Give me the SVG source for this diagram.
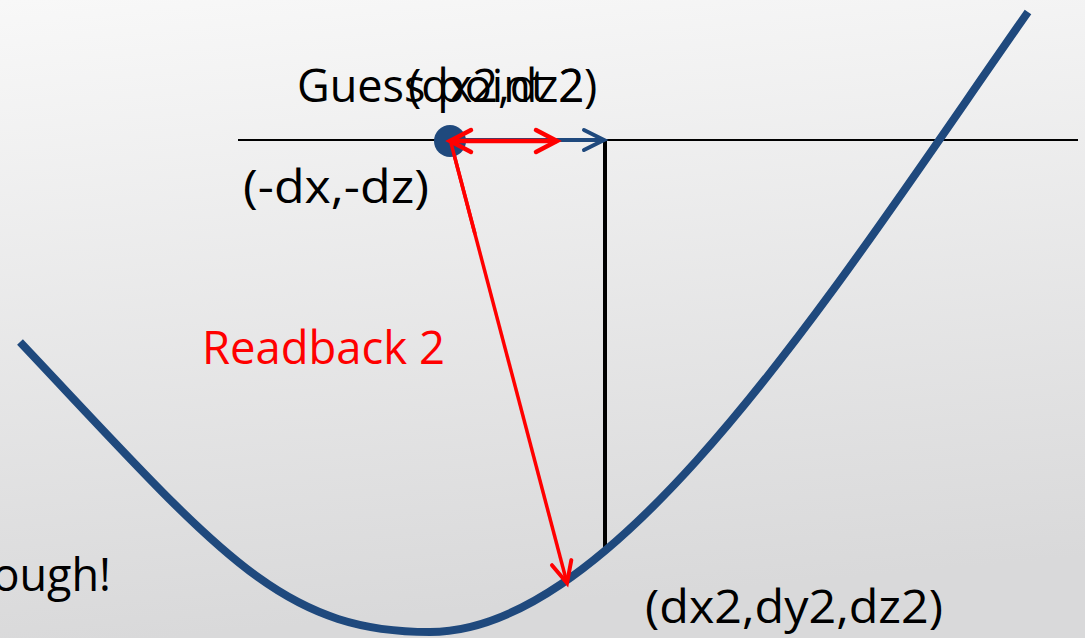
<svg xmlns="http://www.w3.org/2000/svg" width="1085" height="638" viewBox="0 0 1085 638">
  <defs>
    <linearGradient id="bg" x1="0" y1="0" x2="0.15" y2="1">
      <stop offset="0" stop-color="#f8f8f8"/>
      <stop offset="1" stop-color="#d9d9da"/>
    </linearGradient>
    <marker id="redHead" markerUnits="userSpaceOnUse" markerWidth="40" markerHeight="40" viewBox="-30 -20 40 40" refX="0" refY="0" orient="auto-start-reverse" overflow="visible">
      <path d="M-21,-11 L0,0 L-21,11" fill="none" stroke="#ff0000" stroke-width="4.5" stroke-linejoin="miter" stroke-linecap="round"/>
    </marker>
    <marker id="redHeadThin" markerUnits="userSpaceOnUse" markerWidth="40" markerHeight="40" viewBox="-30 -20 40 40" refX="0" refY="0" orient="auto" overflow="visible">
      <path d="M-21,-10 L0,0 L-21,10" fill="none" stroke="#ff0000" stroke-width="4" stroke-linecap="round"/>
    </marker>
    <marker id="blueHead" markerUnits="userSpaceOnUse" markerWidth="40" markerHeight="40" viewBox="-30 -20 40 40" refX="0" refY="0" orient="auto" overflow="visible">
      <path d="M-20,-10 L0,0 L-20,10" fill="none" stroke="#1f497d" stroke-width="4" stroke-linecap="round"/>
    </marker>
    <style>
      .lbl { font-family: "Open Sans", "Liberation Sans", sans-serif; font-size: 45px; fill: #000000; }
      .red { fill: #ff0000; }
      .curve { fill: none; stroke: #1f497d; stroke-width: 8; }
      .axis { stroke: #000000; fill: none; }
    </style>
  </defs>

  <rect x="0" y="0" width="1085" height="638" fill="url(#bg)"/>

  <g id="guides">
    <line class="axis" x1="238" y1="140" x2="1078" y2="140" stroke-width="2"/>
    <line class="axis" x1="605" y1="140" x2="605" y2="552" stroke-width="4"/>
  </g>

  <g id="surface">
    <path class="curve" d="M20,342 C220,554 280,632 430,632 C620,632 840,280 1028,12"/>
  </g>

  <g id="connectors">
    <line x1="450" y1="140" x2="604" y2="140" stroke="#1f497d" stroke-width="4" marker-end="url(#blueHead)"/>
    <line x1="451" y1="143" x2="567" y2="583" stroke="#ff0000" stroke-width="3.5" marker-end="url(#redHeadThin)"/>
  </g>

  <g id="guess-point">
    <circle cx="450" cy="141" r="16" fill="#1f497d"/>
  </g>
  <g id="red-arrows-over-dot">
    <line x1="450" y1="141" x2="557" y2="141" stroke="#ff0000" stroke-width="4.5" marker-start="url(#redHead)" marker-end="url(#redHead)"/>
    <line x1="451" y1="143" x2="475" y2="234" stroke="#ff0000" stroke-width="3.5"/>
  </g>

  <g id="labels">
    <text class="lbl" x="297" y="102">Guess point 2</text>
    <text class="lbl" x="408" y="102">(dx2,dz2)</text>
    <text class="lbl" x="243" y="203" textLength="186" lengthAdjust="spacingAndGlyphs">(-dx,-dz)</text>
    <text class="lbl red" x="202" y="364" textLength="243" lengthAdjust="spacingAndGlyphs">Readback 2</text>
    <text class="lbl" x="111" y="591" text-anchor="end">ough!</text>
    <text class="lbl" x="645" y="623" textLength="298" lengthAdjust="spacingAndGlyphs">(dx2,dy2,dz2)</text>
  </g>
</svg>
